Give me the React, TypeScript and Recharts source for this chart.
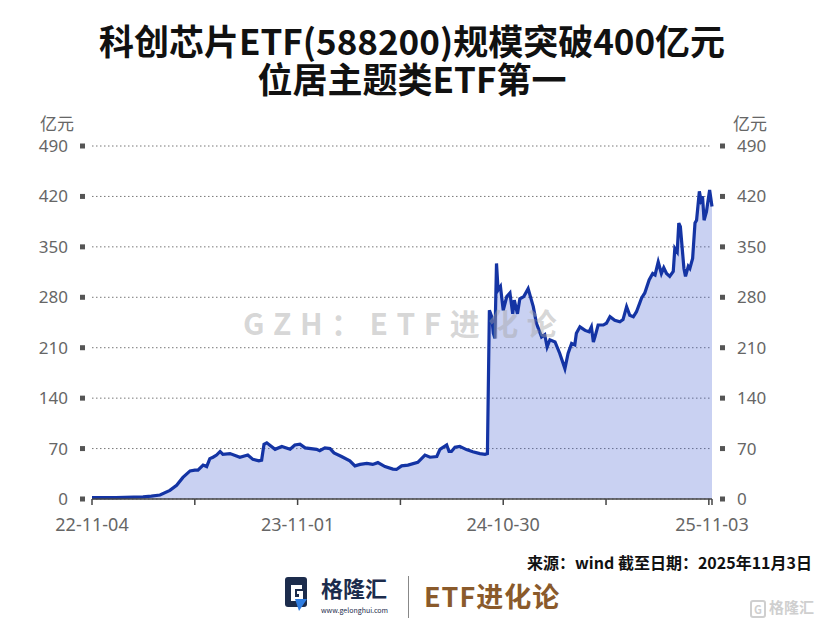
import React from 'react';
import { ComposedChart, Area, Line, XAxis, YAxis, CartesianGrid } from 'recharts';

// x position in weeks since 22-11-04
const weeks = [
  0, 6, 12.9, 15.0, 17.2, 19.7, 21.4, 23.0, 24.8, 26.0, 26.8, 28.1, 29.0, 29.8, 30.6, 31.5, 32.4, 33.1, 34.9, 37.4,
  39.4, 40.7, 42.2, 42.9, 43.5, 44.2, 46.3, 48.0, 50.1, 51.3, 52.6, 53.9, 56.8, 57.6, 58.9, 60.2, 61.2, 63.1, 65.2,
  66.5, 67.8, 69.5, 71.0, 72.3, 74.1, 76.1, 77.0, 78.3, 79.9, 82.4, 84.2, 85.5, 87.2, 88.0, 89.7, 90.3, 90.9, 91.8,
  93.0, 94.7, 96.3, 98.1, 99.4, 100.0, 100.5, 101.1, 101.5, 101.9, 102.3, 102.7, 103.3, 104.0, 104.9, 105.7, 106.4,
  106.8, 107.6, 108.2, 109.2, 110.3, 111.6, 112.4, 113.7, 114.5, 115.1, 115.8, 117.1, 118.3, 119.6, 120.4, 121.3,
  122.1, 122.5, 123.4, 124.7, 125.7, 126.3, 126.8, 127.2, 128.0, 129.3, 130.1, 131.0, 132.2, 133.5, 134.3, 135.2,
  136.0, 136.9, 137.7, 139.0, 139.8, 140.9, 141.8, 142.4, 143.2, 144.0, 144.6, 145.3, 146.1, 147.0, 147.4, 148.0,
  148.4, 148.8, 149.7, 150.1, 150.8, 151.2, 151.9, 152.5, 152.9, 153.6, 154.0, 154.4, 154.8, 155.4, 156.2, 156.8,
];

// fund size, 亿元
const sizes = [
  2, 2, 3, 4, 5.5, 12, 19, 30, 39, 40, 40, 47, 45, 56, 58, 61, 66, 62, 63, 58,
  61, 55, 53, 54, 76, 78, 69, 73, 69, 75, 76, 71, 69, 67, 71, 70, 64, 59, 53,
  46, 48, 49.5, 48, 50.5, 45, 41.5, 41, 46, 47, 51, 61, 58, 59, 69, 75, 66, 66, 72,
  73, 68.6, 65.5, 63, 62, 63, 262, 253, 230, 223, 327, 290, 295, 262, 281, 286, 257,
  276, 257, 278, 281, 292, 267, 244, 225, 228, 211, 221, 218, 202, 181, 202, 216,
  214, 230, 239, 234, 232, 239, 218, 225, 241.5, 241.5, 244, 253, 248, 246, 249, 267,
  255, 253, 260, 279, 286, 304, 313, 311, 329, 313, 321, 313, 309, 316, 348, 343,
  383, 378, 320, 309, 323, 320, 334, 383, 387, 427, 415, 420, 387, 399, 429, 406,
];

const yTicks = [0, 70, 140, 210, 280, 350, 420, 490];
const xTicks = [0, 26, 52, 78, 104, 130, 156, 156.8];
const xLabelTicks = [0, 52, 104, 156.8];
const xLabels = ['22-11-04', '23-11-01', '24-10-30', '25-11-03'];

const data = weeks.map((w, i) => ({ w, v: sizes[i] }));

const NUM_FONT = '"Noto Sans", "Noto Sans CJK SC", sans-serif';
const CJK_FONT = '"Noto Sans CJK SC", "Noto Sans", sans-serif';

const LeftTick = (props: any) => {
  const { x, y, payload } = props;
  return (
    <g>
      <rect x={x - 12} y={y - 2.5} width={5} height={5} fill="#555" />
      <text x={x - 24} y={y + 6} textAnchor="end" fill="#666" fontSize={17} style={{ fontFamily: NUM_FONT }}>
        {payload.value}
      </text>
    </g>
  );
};

const RightTick = (props: any) => {
  const { x, y, payload } = props;
  return (
    <g>
      <rect x={x + 8} y={y - 2.5} width={5} height={5} fill="#555" />
      <text x={x + 25} y={y + 6} textAnchor="start" fill="#666" fontSize={17} style={{ fontFamily: NUM_FONT }}>
        {payload.value}
      </text>
    </g>
  );
};

const BottomTick = (props: any) => {
  const { x, y, payload } = props;
  const idx = xLabelTicks.indexOf(payload.value);
  if (idx < 0) return <g />;
  return (
    <text x={x} y={y + 24} textAnchor="middle" fill="#666" fontSize={18} style={{ fontFamily: NUM_FONT }}>
      {xLabels[idx]}
    </text>
  );
};

export default function App() {
  return (
    <div
      style={{
        position: 'relative',
        width: 824,
        height: 624,
        margin: '-8px 0 0 -8px',
        background: '#fff',
        overflow: 'hidden',
        fontFamily: CJK_FONT,
      }}
    >
      <div
        style={{
          position: 'absolute',
          top: 21,
          left: 0,
          width: 824,
          textAlign: 'center',
          fontSize: 35,
          fontWeight: 700,
          lineHeight: '38px',
          color: '#111',
        }}
      >
        <div>科创芯片ETF(588200)规模突破400亿元</div>
        <div>位居主题类ETF第一</div>
      </div>

      <div style={{ position: 'absolute', top: 110, left: 40, fontSize: 17, color: '#666' }}>亿元</div>
      <div style={{ position: 'absolute', top: 110, left: 733, fontSize: 17, color: '#666' }}>亿元</div>

      <div style={{ position: 'absolute', top: 0, left: 0 }}>
        <ComposedChart width={824} height={624} data={data} margin={{ top: 146, right: 0, bottom: 95, left: 0 }}>
          <CartesianGrid yAxisId="left" vertical={false} stroke="#777" strokeWidth={1} strokeDasharray="1.5 2.5" />
          <XAxis
            dataKey="w"
            type="number"
            domain={[0, 156.8]}
            ticks={xTicks}
            interval={0}
            height={30}
            axisLine={{ stroke: '#444', strokeWidth: 1.5 }}
            tickLine={{ stroke: '#444', strokeWidth: 1.5 }}
            tickSize={6}
            tick={<BottomTick />}
          />
          <YAxis
            yAxisId="left"
            orientation="left"
            width={92}
            domain={[0, 490]}
            ticks={yTicks}
            interval={0}
            axisLine={false}
            tickLine={false}
            tickSize={0}
            tickMargin={0}
            tick={<LeftTick />}
          />
          <YAxis
            yAxisId="right"
            orientation="right"
            width={112}
            domain={[0, 490]}
            ticks={yTicks}
            interval={0}
            axisLine={false}
            tickLine={false}
            tickSize={0}
            tickMargin={0}
            tick={<RightTick />}
          />
          <Area
            yAxisId="left"
            type="linear"
            dataKey="v"
            stroke="#1434a4"
            strokeWidth={3.2}
            fill="rgb(60,90,210)"
            fillOpacity={0.28}
            dot={false}
            activeDot={false}
            isAnimationActive={false}
          />
          <Line
            yAxisId="right"
            type="linear"
            dataKey="v"
            stroke="none"
            strokeWidth={0}
            dot={false}
            activeDot={false}
            legendType="none"
            isAnimationActive={false}
          />
        </ComposedChart>
      </div>

      <div
        style={{
          position: 'absolute',
          top: 300,
          left: 243,
          fontSize: 30,
          fontWeight: 700,
          letterSpacing: 8.5,
          color: 'rgba(165,165,165,0.45)',
          whiteSpace: 'nowrap',
          fontFamily: '"Noto Sans CJK SC", sans-serif',
        }}
      >
        GZH：ETF进化论
      </div>

      <div
        style={{
          position: 'absolute',
          top: 550,
          right: 12,
          fontSize: 16,
          fontWeight: 700,
          color: '#111',
          whiteSpace: 'nowrap',
        }}
      >
        来源：wind 截至日期：2025年11月3日
      </div>

      <svg style={{ position: 'absolute', left: 285, top: 577 }} width={24} height={34} viewBox="0 0 24 34">
        <rect x={0} y={0} width={22} height={30} rx={3} fill="#1c2c4c" />
        <path d="M6 8 H17 V12 H10 V20 H14 V17 H12 V14 H18 V24 H6 Z" fill="#fff" />
        <path d="M10 22 L22 22 L14 34 Z" fill="#2f7de1" />
      </svg>
      <div
        style={{
          position: 'absolute',
          left: 321,
          top: 575,
          fontSize: 22,
          lineHeight: '24px',
          fontWeight: 700,
          color: '#1c2c4c',
          whiteSpace: 'nowrap',
        }}
      >
        格隆汇
      </div>
      <div
        style={{
          position: 'absolute',
          left: 321,
          top: 606,
          fontSize: 7,
          lineHeight: '8px',
          color: '#1c2c4c',
          whiteSpace: 'nowrap',
        }}
      >
        www.gelonghui.com
      </div>
      <div style={{ position: 'absolute', left: 408, top: 576, width: 1, height: 42, background: '#888' }} />
      <div
        style={{
          position: 'absolute',
          left: 424,
          top: 576,
          fontSize: 27,
          fontWeight: 700,
          color: '#8a5a2b',
          letterSpacing: 1,
          whiteSpace: 'nowrap',
        }}
      >
        ETF进化论
      </div>

      <div
        style={{
          position: 'absolute',
          left: 750,
          top: 597,
          fontSize: 15,
          lineHeight: '20px',
          fontWeight: 700,
          color: '#cfcfcf',
          whiteSpace: 'nowrap',
        }}
      >
        <span
          style={{
            display: 'inline-block',
            border: '2px solid #cfcfcf',
            borderRadius: 3,
            width: 12,
            height: 14,
            lineHeight: '14px',
            fontSize: 11,
            textAlign: 'center',
            marginRight: 3,
            verticalAlign: 'middle',
          }}
        >
          G
        </span>
        格隆汇
      </div>
    </div>
  );
}
